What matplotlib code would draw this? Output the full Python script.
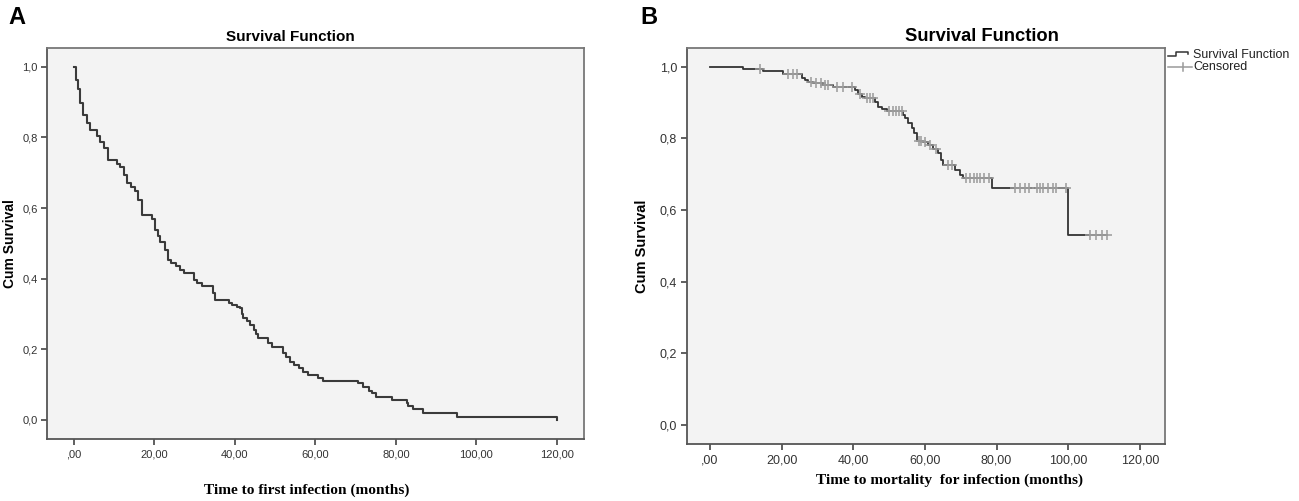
import numpy as np
import matplotlib
matplotlib.use("Agg")
import matplotlib.pyplot as plt

# ---------------- data ----------------
# Panel A: time to first infection (Kaplan-Meier step points)
a_times = [0, 0.4, 0.9, 1.5, 2.3, 3.2, 4.0, 5.6, 6.5, 7.5, 8.5, 10.6, 11.4, 12.3,
           13.1, 14.2, 15.2, 16.0, 17.0, 19.3, 20.1, 20.8, 21.4, 22.6, 23.3, 24.0,
           25.4, 26.3, 27.3, 29.7, 30.5, 31.7, 34.5, 35.0, 38.4, 39.2, 40.4, 41.3,
           41.7, 42.1, 42.9, 43.7, 44.7, 45.3, 45.8, 48.3, 49.1, 51.9, 52.7, 53.7,
           54.7, 55.8, 57.0, 58.2, 60.7, 62.0, 70.7, 71.9, 73.2, 74.0, 75.1, 79.0,
           82.7, 83.1, 84.3, 86.8, 95.1, 120.0]
a_surv = [1.0, 0.963, 0.937, 0.897, 0.864, 0.840, 0.820, 0.804, 0.788, 0.770, 0.737,
          0.726, 0.717, 0.694, 0.670, 0.659, 0.647, 0.623, 0.581, 0.570, 0.538, 0.520,
          0.505, 0.482, 0.453, 0.444, 0.435, 0.425, 0.415, 0.397, 0.387, 0.378, 0.360,
          0.340, 0.331, 0.326, 0.321, 0.316, 0.300, 0.288, 0.279, 0.269, 0.255, 0.242,
          0.231, 0.217, 0.206, 0.190, 0.179, 0.165, 0.156, 0.146, 0.137, 0.127, 0.118,
          0.111, 0.104, 0.094, 0.083, 0.076, 0.066, 0.055, 0.047, 0.038, 0.030, 0.020,
          0.0095, 0.0]

# Panel B: time to mortality for infection
b_times = [0, 9.3, 14.9, 20.5, 25.6, 26.5, 27.4, 28.8, 31.6, 34.4, 40.5, 41.4, 42.3,
           43.3, 46.0, 47.0, 47.9, 49.3, 53.9, 54.4, 55.3, 56.3, 56.9, 57.7, 59.5,
           60.9, 62.3, 63.7, 64.4, 65.1, 68.4, 69.8, 70.5, 78.6, 100.0, 110.7]
b_surv = [1.0, 0.9935, 0.988, 0.980, 0.969, 0.963, 0.958, 0.954, 0.949, 0.944, 0.935,
          0.923, 0.916, 0.912, 0.902, 0.888, 0.882, 0.876, 0.865, 0.856, 0.842, 0.830,
          0.814, 0.793, 0.789, 0.780, 0.770, 0.758, 0.740, 0.726, 0.712, 0.698, 0.688,
          0.661, 0.530, 0.530]
b_censored = [14.0, 21.9, 23.3, 24.2, 28.3, 29.7, 31.1, 32.0, 33.0, 35.5, 37.0, 39.5,
              42.0, 43.8, 44.8, 45.5, 50.0, 51.0, 52.0, 52.8, 53.5, 58.3, 59.0, 60.0,
              61.5, 63.0, 66.5, 67.5, 71.4, 72.7, 73.6, 74.5, 75.5, 76.4, 77.8, 85.1,
              86.5, 87.9, 89.0, 91.2, 92.1, 93.0, 94.4, 95.8, 96.7, 99.5, 106.0, 107.8,
              109.5, 110.7]

x_ticks = [0, 20, 40, 60, 80, 100, 120]
x_tick_labels = [",00", "20,00", "40,00", "60,00", "80,00", "100,00", "120,00"]
y_ticks = [0.0, 0.2, 0.4, 0.6, 0.8, 1.0]
y_tick_labels = ["0,0", "0,2", "0,4", "0,6", "0,8", "1,0"]

title = "Survival Function"
y_label = "Cum Survival"
a_xlabel = "Time to first infection (months)"
b_xlabel = "Time to mortality  for infection (months)"

# ---------------- figure ----------------
W, H = 1299, 501
fig = plt.figure(figsize=(W / 100, H / 100), dpi=100)
SANS = "Liberation Sans"
SERIF = "Liberation Serif"


def rect(l, t, r, b):
    return [l / W, 1 - b / H, (r - l) / W, (b - t) / H]


def style(ax, xlim, ylim, fs):
    ax.set_facecolor("#f3f3f3")
    ax.set_xlim(*xlim)
    ax.set_ylim(*ylim)
    ax.set_xticks(x_ticks)
    ax.set_xticklabels(x_tick_labels, fontfamily=SANS, fontsize=fs, color="#333333")
    ax.set_yticks(y_ticks)
    ax.set_yticklabels(y_tick_labels, fontfamily=SANS, fontsize=fs, color="#333333")
    ax.tick_params(direction="out", length=4, width=1.2, color="#444444", pad=3)
    for side, sp in ax.spines.items():
        sp.set_linewidth(1.3)
        sp.set_color("#555555" if side in ("left", "bottom") else "#777777")


axA = fig.add_axes(rect(47.3, 47.7, 583.8, 439.3))
style(axA, (-6.64, 126.7), (-0.055, 1.054), 8)
axA.step(a_times, a_surv, where="post", color="#3a3a3a", lw=1.5)

axB = fig.add_axes(rect(686.7, 48.3, 1165, 444.3))
style(axB, (-6.5, 127.0), (-0.054, 1.051), 9)
axB.step(b_times, b_surv, where="post", color="#333333", lw=1.3, zorder=2)
idx = np.searchsorted(b_times, b_censored, side="right") - 1
c_y = np.array(b_surv)[idx]
axB.plot(b_censored, c_y, ls="none", marker="+", ms=7, mew=1.1, color="#9a9a9a", zorder=3)

# ---------------- overlay for text ----------------
ov = fig.add_axes([0, 0, 1, 1], zorder=-1)
ov.set_xlim(0, W)
ov.set_ylim(H, 0)
ov.axis("off")

ov.text(8, 24, "A", fontfamily=SANS, fontweight="bold", fontsize=17, va="baseline", ha="left")
ov.text(640, 24, "B", fontfamily=SANS, fontweight="bold", fontsize=17, va="baseline", ha="left")

ov.text(290.5, 41, title, fontfamily=SANS, fontweight="bold", fontsize=11, ha="center", va="baseline")
ov.text(981.5, 40.7, title, fontfamily=SANS, fontweight="bold", fontsize=13.2, ha="center", va="baseline")

ov.text(10, 243.5, y_label, fontfamily=SANS, fontweight="bold", fontsize=10, rotation=90,
        ha="center", va="center")
ov.text(642, 246, y_label, fontfamily=SANS, fontweight="bold", fontsize=10.5, rotation=90,
        ha="center", va="center")

ov.text(306.7, 490, a_xlabel, fontfamily=SERIF, fontweight="bold", fontsize=11.1, ha="center", va="center")
ov.text(950, 480, b_xlabel, fontfamily=SERIF, fontweight="bold", fontsize=11.1, ha="center", va="center")

# legend (panel B)
lg = fig.add_axes([0, 0, 1, 1], zorder=5)
lg.set_xlim(0, W)
lg.set_ylim(H, 0)
lg.axis("off")
lg.plot([1168, 1176, 1176, 1188, 1188], [56, 56, 51.5, 51.5, 54], color="#333333", lw=1.1)
lg.plot([1168, 1192], [67.3, 67.3], color="#9a9a9a", lw=1.1)
lg.plot([1183, 1183], [63.3, 71.3], color="#9a9a9a", lw=1.1)
lg.text(1193.3, 55, "Survival Function", fontfamily=SANS, fontsize=9, va="center", ha="left", color="#222222")
lg.text(1193.3, 67.3, "Censored", fontfamily=SANS, fontsize=9, va="center", ha="left", color="#222222")

fig.savefig("out.png", dpi=100, facecolor="white")
